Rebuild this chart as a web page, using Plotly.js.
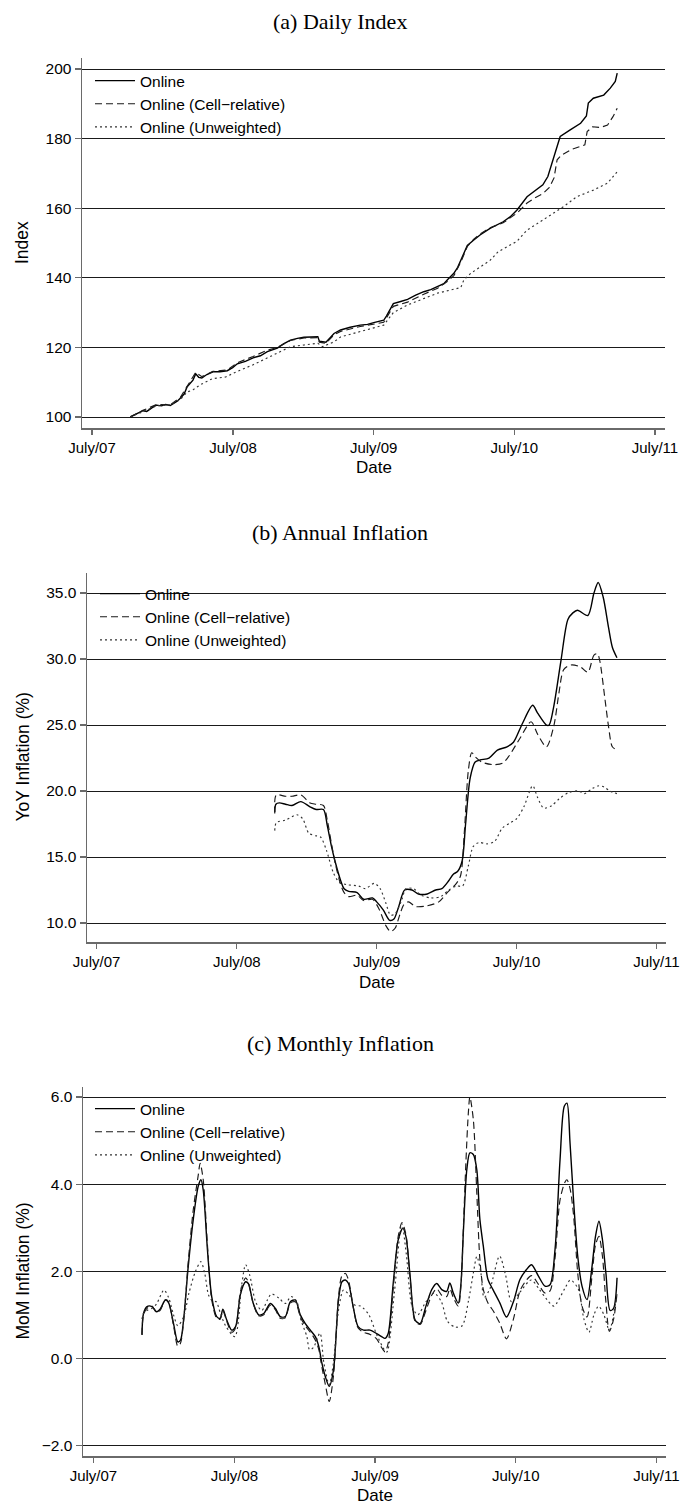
<!DOCTYPE html>
<html><head><meta charset="utf-8">
<script src="https://cdn.plot.ly/plotly-3.0.1.min.js"></script>
<style>html,body{margin:0;padding:0;background:#fff}#chart{width:680px;height:1507px}</style>
</head><body><div id="chart"></div>
<script>
// ---------- shared labels ----------
const tickDates = ['2007-07-01','2008-07-01','2009-07-01','2010-07-01','2011-07-01'];
const tickText  = ['July/07','July/08','July/09','July/10','July/11'];
const seriesNames = ['Online','Online (Cell\u2212relative)','Online (Unweighted)'];
const panelTitles = ['(a) Daily Index','(b) Annual Inflation','(c) Monthly Inflation'];
const yTitles = ['Index','YoY Inflation (%)','MoM Inflation (%)'];
const xTitle = 'Date';
const aTicks = [100,120,140,160,180,200];
const bTicks = [10,15,20,25,30,35];
const cTicks = [-2,0,2,4,6];

// ---------- (a) Daily Index ----------
const aOnlineDate = ['2007-10-08','2007-10-20','2007-11-01','2007-11-10','2007-11-20','2007-11-29','2007-12-08','2007-12-16','2007-12-28','2008-01-08','2008-01-20','2008-01-30','2008-02-08','2008-02-15','2008-02-25','2008-03-04','2008-03-12','2008-03-19','2008-03-26','2008-04-03','2008-04-11','2008-04-24','2008-05-10','2008-05-28','2008-06-16','2008-06-30','2008-07-12','2008-08-02','2008-08-22','2008-09-10','2008-09-28','2008-10-10','2008-10-24','2008-11-09','2008-11-27','2008-12-15','2009-01-01','2009-01-20','2009-02-06','2009-02-10','2009-02-27','2009-03-10','2009-03-20','2009-04-06','2009-05-01','2009-05-27','2009-06-15','2009-07-01','2009-07-27','2009-08-03','2009-08-14','2009-08-21','2009-09-09','2009-09-27','2009-10-18','2009-11-08','2009-11-26','2009-12-14','2009-12-30','2010-01-09','2010-01-25','2010-02-04','2010-02-12','2010-02-22','2010-03-01','2010-03-17','2010-04-03','2010-04-29','2010-06-02','2010-06-20','2010-07-08','2010-08-03','2010-08-24','2010-09-13','2010-09-26','2010-10-10','2010-10-18','2010-10-28','2010-11-23','2010-12-20','2011-01-04','2011-01-09','2011-01-22','2011-02-18','2011-03-07','2011-03-20','2011-03-25'];
const aOnlineVal = [100.0,100.6,101.2,101.8,101.6,102.4,103.0,103.4,103.2,103.6,103.3,104.0,104.6,105.4,106.6,108.7,109.8,110.6,112.4,111.4,111.2,112.2,113.0,113.0,113.3,114.2,115.3,116.0,117.0,117.6,118.8,119.2,119.8,121.0,122.1,122.6,122.9,123.0,123.1,121.8,121.5,122.8,124.0,125.0,125.8,126.4,126.6,127.1,127.8,129.0,131.5,132.6,133.2,133.8,135.0,136.0,136.6,137.6,138.3,139.5,141.3,143.0,145.1,147.5,149.3,150.8,152.3,154.2,156.1,157.5,159.5,163.3,165.0,166.7,169.1,173.9,177.0,180.6,182.5,184.4,186.5,190.2,191.6,192.5,194.5,196.4,198.8];

const aCellDate = ['2007-10-08','2007-11-10','2007-12-16','2008-01-20','2008-02-15','2008-03-04','2008-03-26','2008-04-11','2008-05-10','2008-06-16','2008-07-12','2008-08-22','2008-09-28','2008-10-24','2008-11-27','2009-01-01','2009-02-06','2009-02-10','2009-02-27','2009-03-20','2009-04-06','2009-05-27','2009-07-01','2009-07-27','2009-08-21','2009-09-27','2009-11-08','2009-12-14','2010-01-09','2010-01-25','2010-02-12','2010-03-01','2010-03-17','2010-04-03','2010-04-29','2010-06-02','2010-07-08','2010-08-03','2010-08-24','2010-09-13','2010-09-30','2010-10-12','2010-10-20','2010-11-01','2010-11-29','2010-12-31','2011-01-06','2011-01-20','2011-02-10','2011-02-28','2011-03-14','2011-03-25'];
const aCellVal = [100.0,101.9,103.6,103.5,105.6,109.0,112.8,111.6,113.1,113.5,115.6,117.4,119.2,120.0,122.0,122.7,122.8,121.5,121.2,123.6,124.6,126.0,126.6,127.2,131.8,133.0,135.3,137.0,139.0,140.6,144.5,149.0,151.0,152.6,154.4,155.8,158.6,161.5,163.0,164.2,166.0,168.7,173.9,175.3,177.0,178.2,182.0,183.4,183.2,183.9,186.3,188.7];

const aUnwDate = ['2007-10-08','2007-11-10','2007-12-16','2008-01-20','2008-02-15','2008-03-04','2008-03-19','2008-04-06','2008-05-08','2008-06-12','2008-07-10','2008-08-22','2008-10-24','2008-11-27','2009-01-01','2009-02-06','2009-02-18','2009-03-20','2009-04-06','2009-05-27','2009-07-27','2009-08-21','2009-09-27','2009-12-14','2010-02-12','2010-02-20','2010-03-10','2010-04-29','2010-05-20','2010-07-08','2010-08-03','2010-09-13','2010-11-05','2010-12-10','2011-01-22','2011-02-28','2011-03-25'];
const aUnwVal = [100.0,101.5,103.2,103.5,105.0,107.2,107.8,109.2,111.0,111.5,113.0,115.0,118.3,120.2,120.7,121.2,120.2,121.6,123.0,124.5,126.4,130.0,132.2,135.6,137.2,139.4,141.3,145.0,147.5,150.5,153.7,156.6,160.4,163.3,165.2,167.2,170.5];

// ---------- (b) Annual Inflation ----------
const bOnlineDate = ['2008-10-08','2008-10-11','2008-10-20','2008-11-05','2008-11-22','2008-12-15','2009-01-08','2009-01-24','2009-02-12','2009-02-22','2009-03-05','2009-03-15','2009-03-28','2009-04-07','2009-04-19','2009-05-11','2009-05-28','2009-06-20','2009-07-01','2009-07-18','2009-08-04','2009-08-15','2009-08-27','2009-09-12','2009-10-01','2009-10-18','2009-11-10','2009-12-02','2009-12-18','2010-01-05','2010-01-17','2010-01-28','2010-02-09','2010-02-18','2010-03-02','2010-03-15','2010-03-28','2010-04-20','2010-05-12','2010-06-06','2010-06-23','2010-07-16','2010-08-12','2010-08-25','2010-09-17','2010-09-24','2010-10-06','2010-10-25','2010-11-12','2010-11-25','2010-12-07','2011-01-03','2011-01-19','2011-01-30','2011-02-12','2011-02-26','2011-03-08','2011-03-20'];
const bOnlineVal = [18.4,19.0,19.1,19.0,18.9,19.2,18.8,18.6,18.6,17.4,15.8,14.6,13.3,12.6,12.4,12.3,11.8,11.9,11.6,11.0,10.2,10.3,11.2,12.5,12.5,12.2,12.2,12.5,12.6,13.2,13.7,13.9,14.7,17.5,21.0,22.2,22.35,22.5,23.1,23.35,23.7,25.1,26.5,25.9,25.0,25.0,26.4,29.9,33.0,33.5,33.7,33.3,35.0,35.8,34.7,32.4,30.9,30.1];

const bCellDate = ['2008-10-08','2008-10-12','2008-11-05','2008-11-22','2008-12-15','2009-01-08','2009-01-24','2009-02-12','2009-02-22','2009-03-05','2009-03-15','2009-03-28','2009-04-07','2009-04-19','2009-05-11','2009-05-28','2009-06-20','2009-07-08','2009-07-25','2009-08-06','2009-08-18','2009-08-30','2009-09-10','2009-09-22','2009-10-10','2009-11-10','2009-12-10','2010-01-01','2010-01-25','2010-02-05','2010-02-15','2010-02-25','2010-03-06','2010-03-15','2010-04-01','2010-05-01','2010-05-25','2010-06-10','2010-07-10','2010-08-08','2010-08-25','2010-09-17','2010-10-06','2010-10-20','2010-11-01','2010-11-20','2010-12-15','2011-01-03','2011-01-19','2011-01-28','2011-02-03','2011-02-17','2011-02-26','2011-03-08','2011-03-20'];
const bCellVal = [18.3,19.7,19.6,19.6,19.7,19.1,19.0,18.9,17.8,16.0,14.5,13.0,12.3,12.0,12.1,11.7,11.8,11.0,9.8,9.35,9.6,10.6,11.4,11.6,11.25,11.3,11.6,12.3,13.0,13.6,17.0,21.5,22.9,22.6,22.2,22.0,22.1,22.6,24.0,25.25,24.3,23.35,24.9,27.5,29.2,29.55,29.4,29.0,30.3,30.4,29.9,26.9,24.9,23.35,23.1];

const bUnwDate = ['2008-10-08','2008-10-12','2008-11-05','2008-12-05','2008-12-20','2009-01-05','2009-01-25','2009-02-05','2009-02-20','2009-03-10','2009-03-25','2009-04-15','2009-05-15','2009-06-01','2009-06-25','2009-07-10','2009-07-25','2009-08-06','2009-08-18','2009-09-05','2009-09-15','2009-10-05','2009-10-25','2009-11-20','2009-12-15','2010-01-05','2010-01-25','2010-02-10','2010-02-25','2010-03-10','2010-03-25','2010-04-15','2010-05-05','2010-05-25','2010-06-15','2010-07-01','2010-07-20','2010-08-12','2010-08-25','2010-09-10','2010-10-01','2010-10-20','2010-11-15','2010-12-10','2010-12-25','2011-01-15','2011-02-01','2011-02-15','2011-03-01','2011-03-20'];
const bUnwVal = [17.0,17.6,17.8,18.2,17.9,16.8,16.6,16.5,15.5,13.8,13.1,12.9,12.8,12.6,13.0,12.6,11.5,10.6,10.7,11.8,12.6,12.6,12.1,11.9,12.0,12.5,12.8,12.8,14.3,15.8,16.1,16.0,16.2,17.2,17.6,17.9,18.8,20.4,19.5,18.7,18.9,19.4,19.9,20.0,19.8,20.2,20.4,20.3,20.0,19.8];

// ---------- (c) Monthly Inflation ----------
const cOnlineDate = ['2007-11-04','2007-11-08','2007-11-17','2007-11-30','2007-12-12','2007-12-21','2008-01-04','2008-01-12','2008-01-25','2008-02-05','2008-02-12','2008-02-20','2008-03-03','2008-03-16','2008-03-29','2008-04-05','2008-04-11','2008-04-22','2008-05-03','2008-05-16','2008-05-25','2008-06-01','2008-06-11','2008-06-24','2008-07-04','2008-07-17','2008-07-30','2008-08-06','2008-08-19','2008-09-02','2008-09-15','2008-10-02','2008-10-15','2008-10-28','2008-11-10','2008-11-23','2008-12-06','2008-12-19','2009-01-01','2009-01-14','2009-01-27','2009-02-05','2009-02-13','2009-02-22','2009-03-04','2009-03-15','2009-03-28','2009-04-06','2009-04-15','2009-04-23','2009-05-05','2009-05-18','2009-06-01','2009-06-18','2009-07-05','2009-07-18','2009-07-27','2009-08-04','2009-08-17','2009-08-30','2009-09-11','2009-09-19','2009-09-30','2009-10-13','2009-10-26','2009-11-10','2009-11-25','2009-12-08','2009-12-21','2010-01-03','2010-01-11','2010-01-20','2010-02-02','2010-02-09','2010-02-15','2010-02-24','2010-03-04','2010-03-13','2010-03-22','2010-03-30','2010-04-08','2010-04-20','2010-05-03','2010-05-21','2010-06-07','2010-06-25','2010-07-12','2010-07-29','2010-08-11','2010-08-29','2010-09-15','2010-09-28','2010-10-11','2010-10-24','2010-11-04','2010-11-11','2010-11-19','2010-11-28','2010-12-09','2010-12-20','2011-01-02','2011-01-15','2011-01-24','2011-02-02','2011-02-11','2011-02-20','2011-03-03','2011-03-12','2011-03-21'];
const cOnlineVal = [0.54,1.03,1.19,1.19,1.07,1.13,1.34,1.28,0.80,0.38,0.42,0.88,2.10,3.18,3.95,4.10,3.87,2.49,1.42,0.96,0.92,1.13,0.88,0.65,0.73,1.49,1.76,1.72,1.26,1.00,1.03,1.26,1.15,0.96,0.96,1.30,1.34,1.00,0.80,0.65,0.50,0.27,-0.11,-0.42,-0.64,-0.27,1.34,1.76,1.80,1.72,1.19,0.73,0.65,0.65,0.57,0.50,0.46,0.57,1.72,2.72,2.99,2.80,1.88,0.88,0.80,1.20,1.58,1.72,1.58,1.54,1.73,1.50,1.27,1.73,2.88,4.33,4.72,4.68,4.33,3.19,2.57,1.81,1.58,1.27,0.95,1.30,1.81,2.04,2.15,1.89,1.66,1.69,2.50,4.56,5.79,5.86,4.94,3.64,2.34,1.66,1.35,2.11,2.80,3.15,2.73,1.96,1.10,1.15,1.85];

const cCellDate = ['2007-11-04','2007-11-08','2007-11-17','2007-11-30','2007-12-12','2007-12-21','2008-01-04','2008-01-12','2008-01-25','2008-02-05','2008-02-12','2008-02-20','2008-03-03','2008-03-16','2008-03-29','2008-04-03','2008-04-11','2008-04-22','2008-05-03','2008-05-16','2008-05-25','2008-06-01','2008-06-11','2008-06-24','2008-07-04','2008-07-17','2008-07-30','2008-08-06','2008-08-19','2008-09-02','2008-09-15','2008-10-02','2008-10-15','2008-10-28','2008-11-10','2008-11-23','2008-12-06','2008-12-19','2009-01-01','2009-01-14','2009-01-27','2009-02-05','2009-02-13','2009-02-22','2009-03-04','2009-03-15','2009-03-28','2009-04-06','2009-04-15','2009-04-23','2009-05-05','2009-05-18','2009-06-01','2009-06-18','2009-07-05','2009-07-18','2009-07-27','2009-08-04','2009-08-17','2009-08-30','2009-09-09','2009-09-19','2009-09-30','2009-10-13','2009-10-26','2009-11-10','2009-11-25','2009-12-08','2009-12-21','2010-01-03','2010-01-11','2010-01-20','2010-02-02','2010-02-09','2010-02-16','2010-02-22','2010-02-28','2010-03-04','2010-03-13','2010-03-22','2010-03-30','2010-04-08','2010-04-20','2010-05-03','2010-05-21','2010-06-07','2010-06-25','2010-07-12','2010-07-29','2010-08-11','2010-08-29','2010-09-15','2010-09-28','2010-10-11','2010-10-24','2010-11-06','2010-11-11','2010-11-19','2010-11-28','2010-12-09','2010-12-20','2011-01-02','2011-01-15','2011-01-24','2011-02-02','2011-02-11','2011-02-20','2011-03-01','2011-03-12','2011-03-21'];
const cCellVal = [0.54,1.0,1.15,1.2,1.05,1.1,1.35,1.3,0.75,0.28,0.35,0.85,2.2,3.4,4.2,4.48,4.1,2.6,1.35,0.92,0.9,1.1,0.85,0.6,0.7,1.55,1.85,1.75,1.25,0.98,1.0,1.22,1.12,0.92,0.93,1.27,1.3,0.95,0.75,0.6,0.42,0.2,-0.2,-0.6,-0.99,-0.4,1.4,1.9,1.95,1.8,1.2,0.7,0.6,0.55,0.45,0.25,0.15,0.35,1.6,2.8,3.12,2.85,1.85,0.85,0.78,1.1,1.45,1.6,1.45,1.42,1.6,1.4,1.2,1.7,3.2,4.56,5.63,6.0,5.48,3.8,2.27,1.58,1.27,1.1,0.8,0.45,0.9,1.55,1.8,1.9,1.7,1.5,1.55,2.3,3.64,4.05,4.1,3.9,3.3,1.95,1.2,0.95,1.9,2.6,2.8,2.35,1.3,0.62,0.9,1.5];

const cUnwDate = ['2007-11-04','2007-11-08','2007-11-17','2007-11-30','2007-12-12','2007-12-31','2008-01-12','2008-01-25','2008-02-05','2008-02-20','2008-03-05','2008-03-22','2008-04-05','2008-04-15','2008-04-25','2008-05-05','2008-05-15','2008-05-25','2008-06-08','2008-07-02','2008-07-20','2008-07-30','2008-08-10','2008-08-25','2008-09-10','2008-09-25','2008-10-05','2008-10-25','2008-11-10','2008-11-25','2008-12-10','2008-12-20','2009-01-05','2009-01-12','2009-01-22','2009-02-08','2009-02-18','2009-03-04','2009-03-15','2009-03-28','2009-04-10','2009-04-25','2009-05-10','2009-05-25','2009-06-15','2009-07-05','2009-07-25','2009-08-01','2009-08-20','2009-09-08','2009-09-20','2009-10-05','2009-10-20','2009-11-10','2009-12-01','2009-12-20','2010-01-05','2010-01-25','2010-02-12','2010-03-01','2010-03-13','2010-03-22','2010-04-01','2010-04-10','2010-04-25','2010-05-20','2010-06-05','2010-06-20','2010-07-10','2010-08-10','2010-08-30','2010-09-20','2010-10-08','2010-11-05','2010-11-20','2010-12-10','2010-12-25','2011-01-07','2011-01-20','2011-02-01','2011-02-15','2011-03-01','2011-03-21'];
const cUnwVal = [0.9,1.03,1.1,1.15,1.25,1.57,1.4,1.0,0.75,0.95,1.5,2.0,2.22,1.95,1.45,1.32,1.3,1.05,0.75,0.5,1.7,2.15,1.9,1.3,1.1,1.35,1.48,1.38,1.26,1.42,1.3,0.9,0.5,0.2,0.25,0.58,-0.1,-0.6,-0.1,1.1,1.57,1.45,1.22,1.2,1.0,0.55,0.2,0.15,1.5,3.1,2.4,1.2,1.0,1.3,1.5,1.3,0.85,0.72,0.75,1.35,1.96,2.34,2.0,1.4,1.6,2.35,1.9,1.3,1.5,1.8,1.6,1.35,1.2,1.6,1.8,1.6,0.9,0.6,1.0,1.2,1.0,0.65,1.5];

// ---------- layout helpers (pixel -> paper) ----------
const W = 680, H = 1507;
const px = x => x / W;
const py = y => 1 - y / H;
const SANS = 'Liberation Sans, Arial, Helvetica, sans-serif';
const SERIF = 'Liberation Serif, Times New Roman, serif';

const lineStyles = [
  {color:'#000000', width:1.4, dash:'solid'},
  {color:'#1a1a1a', width:1.15, dash:'7px,4px'},
  {color:'#333333', width:1.15, dash:'2px,3px'}
];

const panels = [
  {dates:[aOnlineDate,aCellDate,aUnwDate], vals:[aOnlineVal,aCellVal,aUnwVal], shape:'linear',
   box:{l:82,r:665,t:58,b:428}, xr:['2007-06-05','2011-07-27'], yr:[96.84,203.16], ticks:aTicks, fmt:'d',
   titleY:22, dateY:467, legend:{x:90,y:64}},
  {dates:[bOnlineDate,bCellDate,bUnwDate], vals:[bOnlineVal,bCellVal,bUnwVal], shape:'spline',
   box:{l:87,r:666,t:573,b:942}, xr:['2007-06-06','2011-07-26'], yr:[8.56,36.52], ticks:bTicks, fmt:'.1f',
   titleY:532, dateY:982, legend:{x:95,y:577}},
  {dates:[cOnlineDate,cCellDate,cUnwDate], vals:[cOnlineVal,cCellVal,cUnwVal], shape:'spline',
   box:{l:83,r:666,t:1087,b:1456}, xr:['2007-06-04','2011-07-26'], yr:[-2.24,6.23], ticks:cTicks, fmt:'.1f',
   titleY:1043, dateY:1495, legend:{x:90,y:1092}}
];

const traces = [];
const layout = {
  width:W, height:H, margin:{l:0,r:0,t:0,b:0},
  paper_bgcolor:'#ffffff', plot_bgcolor:'#ffffff',
  font:{family:SANS, color:'#000'},
  showlegend:true, annotations:[]
};

panels.forEach((p, i) => {
  const n = i === 0 ? '' : String(i + 1);
  const xa = 'x' + n, ya = 'y' + n;
  const lg = 'legend' + n;
  for (let k = 0; k < 3; k++) {
    traces.push({
      type:'scatter', mode:'lines', name:seriesNames[k],
      x:p.dates[k], y:p.vals[k], xaxis:xa, yaxis:ya, legend:lg,
      line:Object.assign({shape:p.shape, smoothing:0.8}, lineStyles[k]),
      hoverinfo:'skip'
    });
  }
  layout['xaxis' + n] = {
    type:'date', domain:[px(p.box.l), px(p.box.r)], range:p.xr, anchor:ya,
    tickmode:'array', tickvals:tickDates, ticktext:tickText, ticklabeloverflow:'allow',
    showline:true, linecolor:'#6a6a6a', linewidth:1.5,
    ticks:'outside', ticklen:5, tickwidth:1.3, tickcolor:'#6a6a6a',
    showgrid:false, zeroline:false,
    tickfont:{family:SANS, size:15, color:'#000'}
  };
  layout['yaxis' + n] = {
    domain:[py(p.box.b), py(p.box.t)], range:p.yr, anchor:xa,
    tickmode:'array', tickvals:p.ticks, tickformat:p.fmt,
    showline:true, linecolor:'#6a6a6a', linewidth:1.5,
    ticks:'outside', ticklen:6, tickwidth:1.3, tickcolor:'#6a6a6a',
    showgrid:true, gridcolor:'#1a1a1a', gridwidth:1, zeroline:false,
    tickfont:{family:SANS, size:15.5, color:'#000'}
  };
  layout[lg] = {
    x:px(p.legend.x), y:py(p.legend.y), xanchor:'left', yanchor:'top',
    bgcolor:'rgba(0,0,0,0)', borderwidth:0, traceorder:'normal',
    font:{family:SANS, size:15.5, color:'#000'}, itemwidth:40
  };
  layout.annotations.push({
    xref:'paper', yref:'paper', x:0.5, y:py(p.titleY), xanchor:'center', yanchor:'middle',
    text:panelTitles[i], showarrow:false, font:{family:SERIF, size:22, color:'#000'}
  });
  layout.annotations.push({
    xref:'paper', yref:'paper', x:px((p.box.l + p.box.r) / 2), y:py(p.dateY), xanchor:'center', yanchor:'middle',
    text:xTitle, showarrow:false, font:{family:SANS, size:17, color:'#000'}
  });
  layout.annotations.push({
    xref:'paper', yref:'paper', x:px(22), y:py((p.box.t + p.box.b) / 2), xanchor:'center', yanchor:'middle',
    text:yTitles[i], textangle:-90, showarrow:false, font:{family:SANS, size:17.5, color:'#000'}
  });
});

Plotly.newPlot('chart', traces, layout, {displayModeBar:false, staticPlot:true});
</script>
</body></html>
